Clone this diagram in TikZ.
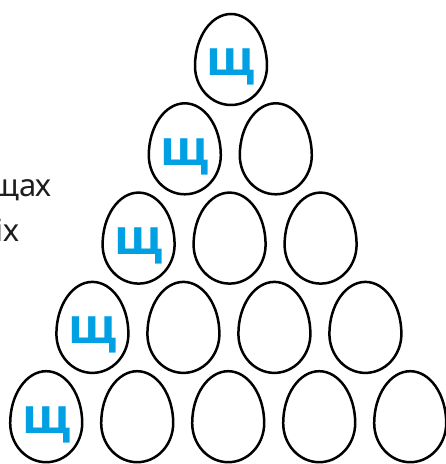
\documentclass[tikz,border=0pt]{standalone}
\usepackage{fontspec}
\setmainfont{Noto Sans}
\newfontfamily\letterfont{Open Sans}
\definecolor{letterblue}{RGB}{0,160,227}
\definecolor{textgray}{RGB}{30,30,30}
\tikzset{
	egg/.pic={\draw[line width=2.5pt] (-36,0) arc[start angle=180,end angle=360,x radius=36,y radius=39]
		arc[start angle=0,end angle=180,x radius=36,y radius=52];},
	letter/.style={anchor=base,text=letterblue,font=\letterfont\fontsize{49}{49}\selectfont\bfseries,inner sep=0pt},
	side/.style={anchor=base east,text=textgray,font=\fontsize{31}{31}\selectfont,inner sep=0pt}
}
\begin{document}
\begin{tikzpicture}[x=1pt,y=1pt]
				\useasboundingbox (0,0) rectangle (446,464);
				\coordinate (E11) at (231,398);
				\coordinate (E21) at (184.8,308.7);
				\coordinate (E22) at (275.8,308.7);
				\coordinate (E31) at (138.6,219.4);
				\coordinate (E32) at (229.6,219.4);
				\coordinate (E33) at (320.6,219.4);
				\coordinate (E41) at (92.4,130.1);
				\coordinate (E42) at (183.4,130.1);
				\coordinate (E43) at (274.4,130.1);
				\coordinate (E44) at (365.4,130.1);
				\coordinate (E51) at (46.2,40.8);
				\coordinate (E52) at (137.2,40.8);
				\coordinate (E53) at (228.2,40.8);
				\coordinate (E54) at (319.2,40.8);
				\coordinate (E55) at (410.2,40.8);
				\pic at (E11) {egg};
				\pic at (E21) {egg};
				\pic at (E22) {egg};
				\pic at (E31) {egg};
				\pic at (E32) {egg};
				\pic at (E33) {egg};
				\pic at (E41) {egg};
				\pic at (E42) {egg};
				\pic at (E43) {egg};
				\pic at (E44) {egg};
				\pic at (E51) {egg};
				\pic at (E52) {egg};
				\pic at (E53) {egg};
				\pic at (E54) {egg};
				\pic at (E55) {egg};
				\node[letter] (L1) at ([yshift=-10]E11) {щ};
				\node[letter] (L2) at ([yshift=-10]E21) {щ};
				\node[letter] (L3) at ([yshift=-10]E31) {щ};
				\node[letter] (L4) at ([yshift=-10]E41) {щ};
				\node[letter] (L5) at ([yshift=-10]E51) {щ};
				% text cut at the left edge
				\node[side] (T1) at (52,267) {щах};
				\node[side] (T2) at (20,222) {іх};
			\end{tikzpicture}
\end{document}
